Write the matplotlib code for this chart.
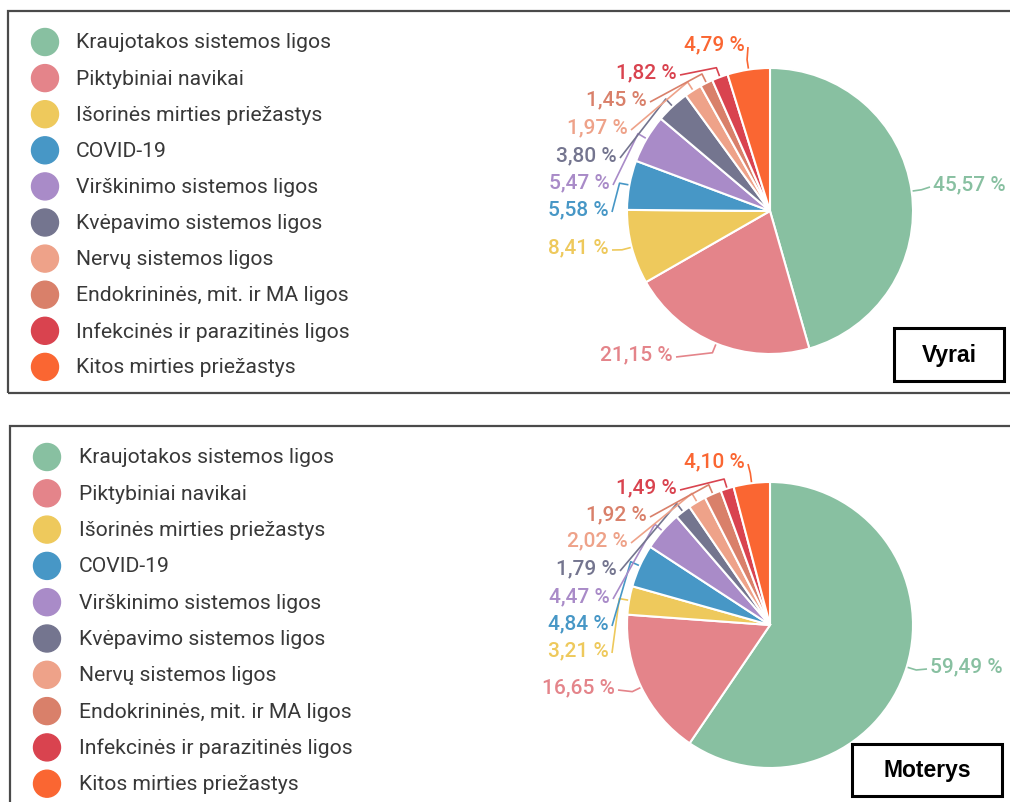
import numpy as np
import matplotlib
matplotlib.use("Agg")
import matplotlib.pyplot as plt
from matplotlib.patches import Circle, Rectangle

# Causes of death, shares in percent
categories = [
    "Kraujotakos sistemos ligos",
    "Piktybiniai navikai",
    "Išorinės mirties priežastys",
    "COVID-19",
    "Virškinimo sistemos ligos",
    "Kvėpavimo sistemos ligos",
    "Nervų sistemos ligos",
    "Endokrininės, mit. ir MA ligos",
    "Infekcinės ir parazitinės ligos",
    "Kitos mirties priežastys",
]
men = [45.57, 21.15, 8.41, 5.58, 5.47, 3.80, 1.97, 1.45, 1.82, 4.79]
women = [59.49, 16.65, 3.21, 4.84, 4.47, 1.79, 2.02, 1.92, 1.49, 4.10]
panel_titles = ["Vyrai", "Moterys"]

colors = ["#88c0a1", "#e4848a", "#eec95c", "#4797c6", "#a98bc8",
          "#74758f", "#eea289", "#d9806a", "#d9434f", "#fa6632"]

W, H = 1010, 803
fig = plt.figure(figsize=(W / 100, H / 100), dpi=100)
ax = fig.add_axes([0, 0, 1, 1])


def Y(y):
    return H - y


def fmt(v):
    return f"{v:.2f}".replace(".", ",") + " %"


# layout of each panel (pixel units)
panels = [
    dict(values=men, box=(8, 12, 1015, 394), cx=770, cy=212, r=143,
         leg_x=45, leg_tx=76, leg_y0=43, leg_dy=36.1,
         title_box=(894, 329, 1004, 382),
         # label anchor (x, y, ha) per slice
         labels=[(933, 185, "left"), (673, 355, "right"), (609, 248, "right"),
                 (609, 210, "right"), (610, 183, "right"), (617, 156, "right"),
                 (628, 128, "right"), (647, 100, "right"), (677, 73, "right"),
                 (745, 45, "right")]),
    dict(values=women, box=(10, 427, 1015, 808), cx=770, cy=626, r=143,
         leg_x=47, leg_tx=79, leg_y0=458, leg_dy=36.3,
         title_box=(852, 745, 1002, 797),
         labels=[(930, 667, "left"), (615, 688, "right"), (609, 651, "right"),
                 (609, 624, "right"), (610, 597, "right"), (617, 569, "right"),
                 (628, 541, "right"), (647, 515, "right"), (677, 488, "right"),
                 (745, 462, "right")]),
]

for p, title in zip(panels, panel_titles):
    x0, y0, x1, y1 = p["box"]
    ax.add_patch(Rectangle((x0, Y(y1)), x1 - x0, y1 - y0, fill=False,
                           edgecolor="#4a4a4a", linewidth=1.6, zorder=1))

    # legend
    for i, (cat, col) in enumerate(zip(categories, colors)):
        yy = p["leg_y0"] + i * p["leg_dy"]
        ax.add_patch(Circle((p["leg_x"], Y(yy)), 13.5, color=col, zorder=3))
        ax.text(p["leg_tx"], Y(yy), cat, fontsize=15.2, family="Roboto",
                color="#383838", va="center", ha="left", zorder=3)

    # pie
    vals = p["values"]
    ax.pie(vals, colors=colors, startangle=90, counterclock=False,
           radius=p["r"], center=(p["cx"], Y(p["cy"])), frame=True,
           wedgeprops=dict(edgecolor="white", linewidth=1.5))

    total = sum(vals)
    cum = np.cumsum([0] + vals[:-1])
    for i, v in enumerate(vals):
        ang = np.deg2rad(90 - 360 * (cum[i] + v / 2) / total)
        lx, ly, ha = p["labels"][i]
        col = colors[i]
        r = p["r"]
        bx = p["cx"] + (r + 10) * np.cos(ang)
        by = Y(p["cy"]) + (r + 10) * np.sin(ang)
        ex = p["cx"] + (r + 1) * np.cos(ang)
        ey = Y(p["cy"]) + (r + 1) * np.sin(ang)
        ax_ = lx + (3 if ha == "right" else -3)
        ax.plot([ax_, bx, ex], [Y(ly) - 3, by, ey], color=col,
                linewidth=1.2, solid_capstyle="butt", zorder=4)
        ax.text(lx, Y(ly), fmt(v), fontsize=15, family="Roboto",
                weight="medium", color=col, ha=ha, va="center", zorder=5)

    # panel title box
    tx0, ty0, tx1, ty1 = p["title_box"]
    ax.add_patch(Rectangle((tx0, Y(ty1)), tx1 - tx0, ty1 - ty0,
                           facecolor="white", edgecolor="black",
                           linewidth=2.2, zorder=6))
    ax.text((tx0 + tx1) / 2, Y((ty0 + ty1) / 2), title, fontsize=16.5,
            family="Liberation Sans", weight="bold", color="black",
            ha="center", va="center", zorder=7)

ax.set_xlim(0, W)
ax.set_ylim(0, H)
ax.set_aspect("auto")
ax.axis("off")
fig.savefig("out.png", dpi=100, facecolor="white")
